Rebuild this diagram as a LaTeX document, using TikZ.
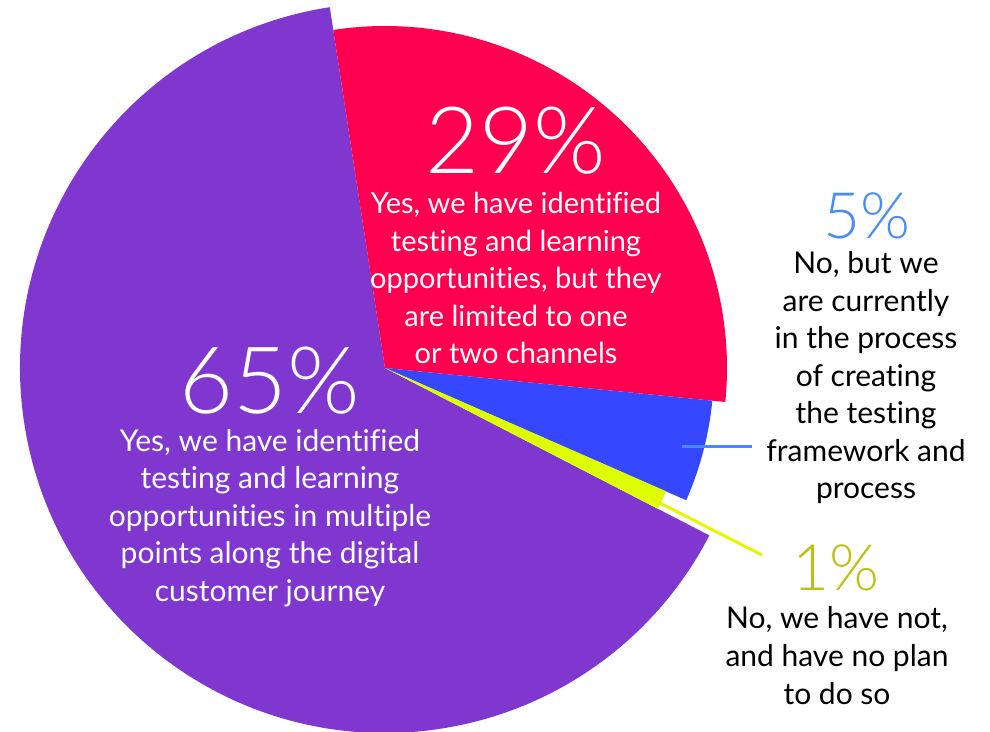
\documentclass[tikz,border=0pt]{standalone}
\usepackage{fontspec}
\setmainfont{Lato}[Ligatures={NoCommon}]
\newfontfamily\lightnum{Lato Light}
\definecolor{pieviolet}{HTML}{7F37CF}
\definecolor{piered}{HTML}{FF0050}
\definecolor{pieblue}{HTML}{3548FF}
\definecolor{pielime}{HTML}{DDFF00}
\definecolor{leadblue}{HTML}{4A86F5}
\definecolor{numblue}{HTML}{4A8CF5}
\definecolor{numolive}{HTML}{BEC01A}
\definecolor{leadlime}{HTML}{E6F500}
\tikzset{
  bignum/.style={inner sep=0pt, font=\lightnum\fontsize{93}{93}\selectfont},
  midnum/.style={inner sep=0pt, font=\lightnum\fontsize{64}{64}\selectfont},
  bodytxt/.style={inner sep=0pt, align=center, font=\fontsize{30}{37.5}\selectfont},
  leader/.style={line width=3pt}
}
\begin{document}
\begin{tikzpicture}[x=1pt,y=1pt]
\useasboundingbox (0,0) rectangle (990,731);
\coordinate (C) at (385,363);
% slices
\fill[pieviolet] (C) -- +(98.7:365pt) arc[start angle=98.7, end angle=332.7, radius=365pt] -- cycle;
\fill[piered] (C) -- +(98.7:342pt) arc[start angle=98.7, end angle=-5.7, radius=342pt] -- cycle;
\fill[pieblue] (C) -- +(-5.7:329pt) arc[start angle=-5.7, end angle=-23.7, radius=329pt] -- cycle;
\fill[pielime] (C) -- +(-23.7:307pt) arc[start angle=-23.7, end angle=-27.3, radius=307pt] -- cycle;
% red labels
\node[bignum, text=white] (n29) at (516,590) {29\%};
\node[bodytxt, font=\fontsize{29}{37.5}\selectfont, text=white] (t29) at (516,453) {Yes, we have identified\\testing and learning\\opportunities, but they\\are limited to one\\or two channels};
% purple labels
\node[bignum, text=white] (n65) at (270,350) {65\%};
\node[bodytxt, text=white] (t65) at (270,213) {Yes, we have identified\\testing and learning\\opportunities in multiple\\points along the digital\\customer journey};
% blue labels
\node[midnum, text=numblue] (n5) at (867,515) {5\%};
\node[bodytxt] (t5) at (866,353) {No, but we\\are currently\\in the process\\of creating\\the testing\\framework and\\process};
% lime labels
\node[midnum, text=numolive] (n1) at (836,163) {1\%};
\node[bodytxt, font=\fontsize{30}{38}\selectfont] (t1) at (837,75) {No, we have not,\\and have no plan\\to do so};
% leaders
\coordinate (bluein) at (682,284);
\coordinate (blueout) at (752,284);
\draw[leader, leadblue] (bluein) -- (blueout);
\coordinate (limein) at (650,233);
\coordinate (limeout) at (762,176);
\draw[leader, leadlime] (limein) -- (limeout);
\end{tikzpicture}
\end{document}
